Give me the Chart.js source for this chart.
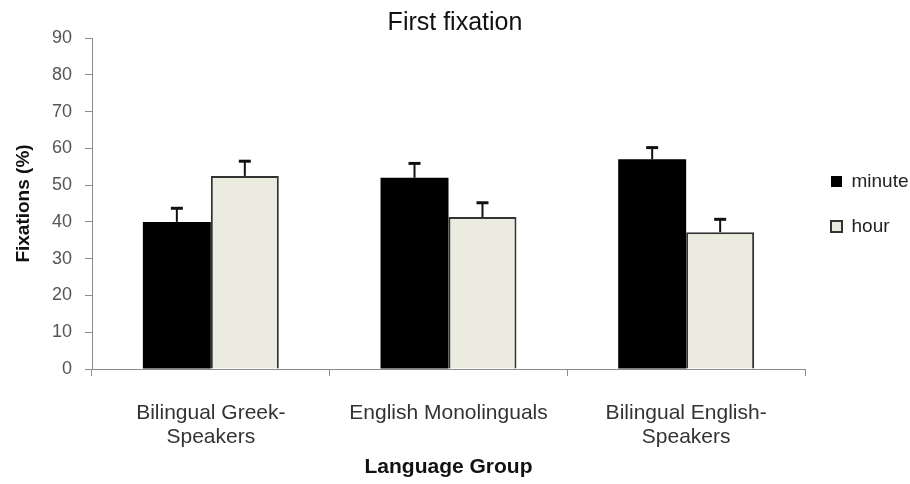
<!DOCTYPE html>
<html>
<head>
<meta charset="utf-8">
<script src="https://cdn.jsdelivr.net/npm/chart.js@4.4.1/dist/chart.umd.min.js"></script>
<style>
  html, body { margin: 0; padding: 0; background: #fff; }
  #wrap { width: 910px; height: 484px; }
</style>
</head>
<body>
<div id="wrap"><canvas id="chart" width="910" height="484"></canvas></div>
<script>
// categories and values
const groups = [['Bilingual Greek-', 'Speakers'], 'English Monolinguals', ['Bilingual English-', 'Speakers']];
const seriesNames = ['minute', 'hour'];
const minuteValues = [40, 52, 57];
const hourValues = [52.5, 41.3, 37.2];
const minuteErrors = [3.7, 3.9, 3.2];
const hourErrors = [4.0, 3.9, 3.5];
const yTicks = [0, 10, 20, 30, 40, 50, 60, 70, 80, 90];

const fontFamily = "'Liberation Sans', Arial, sans-serif";
const axisGray = '#8c8c8c';

// error bars (upper half only, with a cap)
const errorBars = {
    id: 'errorBars',
    afterDatasetsDraw(chart) {
        const ctx = chart.ctx;
        const y = chart.scales.y;
        ctx.save();
        ctx.strokeStyle = '#111';
        chart.data.datasets.forEach((ds, i) => {
            const meta = chart.getDatasetMeta(i);
            meta.data.forEach((bar, j) => {
                const top = y.getPixelForValue(ds.data[j] + ds.errors[j]);
                ctx.lineWidth = 2;
                ctx.beginPath();
                ctx.moveTo(bar.x, bar.y);
                ctx.lineTo(bar.x, top);
                ctx.stroke();
                ctx.lineWidth = 3;
                ctx.beginPath();
                ctx.moveTo(bar.x - 6, top);
                ctx.lineTo(bar.x + 6, top);
                ctx.stroke();
            });
        });
        ctx.restore();
    }
};

new Chart(document.getElementById('chart'), {
    type: 'bar',
    data: {
        labels: groups,
        datasets: [{
            label: seriesNames[0],
            data: minuteValues,
            errors: minuteErrors,
            backgroundColor: '#000000',
            borderColor: '#000000',
            borderWidth: 0
        }, {
            label: seriesNames[1],
            data: hourValues,
            errors: hourErrors,
            backgroundColor: '#ecebdf',
            borderColor: '#333333',
            borderWidth: 2
        }]
    },
    options: {
        responsive: false,
        animation: false,
        categoryPercentage: 0.572,
        barPercentage: 1,
        layout: {
            padding: 0
        },
        plugins: {
            legend: {
                position: 'right',
                align: 'start',
                maxWidth: 105,
                // empty title only used to push the entries down
                title: {
                    display: true,
                    text: '',
                    font: { size: 10, lineHeight: 1 },
                    padding: { top: 0, bottom: 136 }
                },
                labels: {
                    color: '#222',
                    boxWidth: 11,
                    boxHeight: 11,
                    padding: 26,
                    font: { family: fontFamily, size: 19 }
                }
            },
            tooltip: { enabled: false },
            title: {
                display: true,
                text: 'First fixation',
                color: '#111',
                font: { family: fontFamily, size: 25, weight: 'normal', lineHeight: 1 },
                padding: { top: 11, bottom: 2 }
            }
        },
        scales: {
            x: {
                afterFit(scale) { scale.height = 115; },
                grid: {
                    drawOnChartArea: false,
                    color: axisGray,
                    tickLength: 7
                },
                border: { color: axisGray, width: 1 },
                ticks: {
                    color: '#333',
                    padding: 25,
                    maxRotation: 0,
                    font: { family: fontFamily, size: 21, lineHeight: 1.15 }
                },
                title: {
                    display: true,
                    text: 'Language Group',
                    color: '#111',
                    font: { family: fontFamily, size: 21, weight: 'bold', lineHeight: 1.2 },
                    padding: { top: 0, bottom: 4 }
                }
            },
            y: {
                min: yTicks[0],
                max: yTicks[yTicks.length - 1],
                afterFit(scale) { scale.width = 92; },
                afterBuildTicks(scale) { scale.ticks = yTicks.map(v => ({ value: v })); },
                grid: {
                    drawOnChartArea: false,
                    color: axisGray,
                    tickLength: 7
                },
                border: { color: axisGray, width: 1 },
                ticks: {
                    color: '#555',
                    padding: 13,
                    font: { family: fontFamily, size: 18 }
                },
                title: {
                    display: true,
                    text: 'Fixations (%)',
                    color: '#111',
                    font: { family: fontFamily, size: 19, weight: 'bold', lineHeight: 1.2 },
                    padding: { top: 12, bottom: 0 }
                }
            }
        }
    },
    plugins: [errorBars]
});
</script>
</body>
</html>
